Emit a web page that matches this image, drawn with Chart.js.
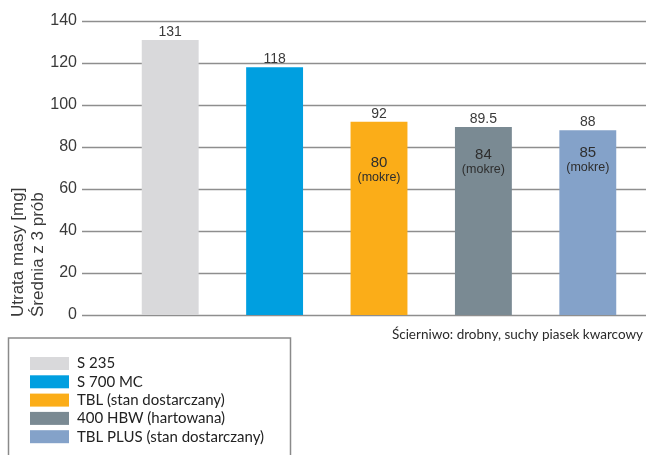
<!DOCTYPE html>
<html>
<head>
<meta charset="utf-8">
<script src="https://cdn.jsdelivr.net/npm/chart.js@4/dist/chart.umd.min.js"></script>
<style>
  html, body { margin: 0; padding: 0; background: #fff; }
  #wrap { width: 646px; height: 455px; }
</style>
</head>
<body>
<div id="wrap"><canvas id="myChart" width="646" height="455"></canvas></div>
<script>
// materiały i ubytek masy (mg), średnia z 3 prób
let labels = ['S 235', 'S 700 MC', 'TBL (stan dostarczany)', '400 HBW (hartowana)', 'TBL PLUS (stan dostarczany)'];
let dryLoss = [131, 118, 92, 89.5, 88];
let wetLoss = [null, null, 80, 84, 85];
let barColors = ['#d9d9db', '#009fe0', '#fbad18', '#7a8a93', '#84a2c9'];
let yTicks = [0, 20, 40, 60, 80, 100, 120, 140];

let axisFont = '"Liberation Sans", Arial, sans-serif';
let textFont = 'Lato, "Liberation Sans", sans-serif';

/* linie siatki - sięgają od etykiet aż do prawej krawędzi */
let gridLines = {
  id: 'gridLines',
  beforeDatasetsDraw: function(chart){
    let ctx = chart.ctx;
    let y = chart.scales.y;
    ctx.save();
    ctx.strokeStyle = '#8e8e8e';
    ctx.lineWidth = 1.3;
    yTicks.forEach(function(t){
      let py = Math.round(y.getPixelForValue(t)) + 0.5;
      ctx.beginPath();
      ctx.moveTo(82, py);
      ctx.lineTo(chart.width, py);
      ctx.stroke();
    });
    ctx.restore();
  }
};

/* wartości nad słupkami i wyniki "mokre" w środku */
let barLabels = {
  id: 'barLabels',
  afterDatasetsDraw: function(chart){
    let ctx = chart.ctx;
    let meta = chart.getDatasetMeta(0);
    let y = chart.scales.y;
    ctx.save();
    ctx.textAlign = 'center';
    ctx.textBaseline = 'middle';
    meta.data.forEach(function(bar, i){
      ctx.fillStyle = '#3a3a3a';
      ctx.font = '14px ' + axisFont;
      ctx.fillText(String(dryLoss[i]), bar.x, bar.y - 8);
      if(wetLoss[i] !== null){
        let wy = y.getPixelForValue(wetLoss[i]) + 16;
        ctx.fillStyle = '#2e2e2e';
        ctx.font = '15px ' + axisFont;
        ctx.fillText(String(wetLoss[i]), bar.x, wy);
        ctx.font = '12.5px ' + axisFont;
        ctx.fillText('(mokre)', bar.x, wy + 15);
      }
    });
    ctx.restore();
  }
};

/* opis osi Y, przypis i legenda w ramce */
let extras = {
  id: 'extras',
  afterDraw: function(chart){
    let ctx = chart.ctx;
    ctx.save();
    // opis osi
    ctx.fillStyle = '#3a3a3a';
    ctx.font = '17px ' + axisFont;
    ctx.textAlign = 'left';
    ctx.textBaseline = 'alphabetic';
    [['Utrata masy [mg]', 23], ['Średnia z 3 prób', 43]].forEach(function(l){
      ctx.save();
      ctx.translate(l[1], 317);
      ctx.rotate(-Math.PI / 2);
      ctx.fillText(l[0], 0, 0);
      ctx.restore();
    });

    // przypis
    ctx.fillStyle = '#2a2a2a';
    ctx.font = '13.5px ' + textFont;
    ctx.textAlign = 'right';
    ctx.textBaseline = 'middle';
    ctx.fillText('Ścierniwo: drobny, suchy piasek kwarcowy', 643, 335);

    // ramka legendy
    ctx.strokeStyle = '#8a8a8a';
    ctx.lineWidth = 1.5;
    ctx.strokeRect(8.5, 338, 282, 130);

    ctx.font = '15px ' + textFont;
    ctx.textAlign = 'left';
    labels.forEach(function(name, i){
      let cy = 363.5 + i * 18.3;
      ctx.fillStyle = barColors[i];
      ctx.fillRect(30, cy - 6.5, 39, 13);
      ctx.fillStyle = '#222';
      ctx.fillText(name, 77, cy);
    });
    ctx.restore();
  }
};

let data = {
  labels: labels,
  datasets: [{
    data: dryLoss,
    backgroundColor: barColors,
    borderWidth: 0,
    barPercentage: 0.545,
    categoryPercentage: 1
  }]
};

let config = {
  type: 'bar',
  data: data,
  options: {
    responsive: false,
    animation: false,
    layout: { padding: { top: 21, right: 6, bottom: 140, left: 0 } },
    plugins: {
      legend: { display: false },
      tooltip: { enabled: false }
    },
    scales: {
      x: { display: false },
      y: {
        min: 0,
        max: 140,
        afterFit: function(scale){
          scale.width = 118;
          // etykiety odsunięte w poziomie nie powinny zmniejszać wysokości osi
          scale.paddingTop = 0;
          scale.paddingBottom = 0;
        },
        afterBuildTicks: function(scale){
          scale.ticks = yTicks.map(function(v){ return { value: v }; });
        },
        grid: { display: false, drawTicks: false },
        border: { display: false },
        ticks: {
          padding: 41,
          color: '#3a3a3a',
          font: { family: axisFont, size: 16 }
        }
      }
    }
  },
  plugins: [gridLines, barLabels, extras]
};

let myChart = new Chart(document.getElementById('myChart'), config);
</script>
</body>
</html>
